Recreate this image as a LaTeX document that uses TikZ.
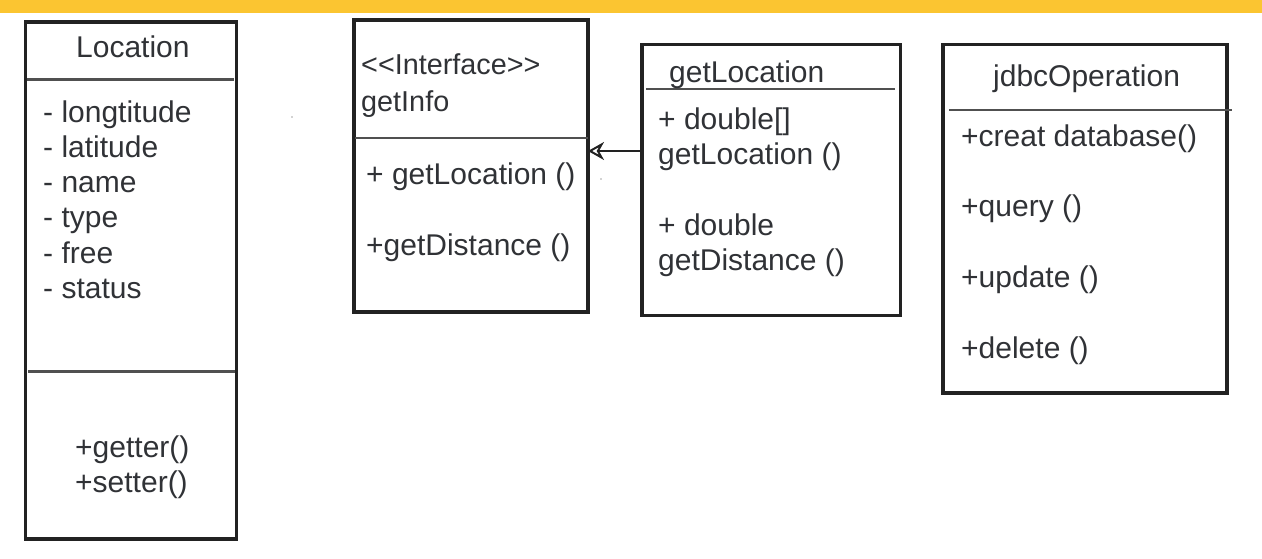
\documentclass[tikz,border=0pt]{standalone}
\usepackage{fontspec}
\setmainfont{Liberation Sans}[Ligatures=TeXOff]
\usetikzlibrary{arrows.meta}
\definecolor{barY}{RGB}{251,197,49}
\definecolor{txtC}{RGB}{48,50,54}
\definecolor{edgeC}{RGB}{34,34,34}
\definecolor{divC}{RGB}{80,80,80}
\begin{document}
\begin{tikzpicture}[x=1pt,y=-1pt,
  box/.style={draw=edgeC, line width=3.2pt, rectangle, inner sep=0pt, outer sep=0pt, anchor=north west},
  divider/.style={draw=divC, line width=2.2pt},
  txt/.style={text=txtC, inner sep=0pt, anchor=base west, font=\fontsize{30}{35}\selectfont},
  stxt/.style={txt, font=\fontsize{28.8}{35}\selectfont},
  arr/.style={draw=edgeC, line width=2pt, -{Stealth[open, length=16pt, width=18pt, inset=5pt]}}]
\useasboundingbox (0,0) rectangle (1262,559);
\fill[barY] (0,0) rectangle (1262,13);
% boxes
\node[box, minimum width=211pt, minimum height=517pt] (loc) at (25.5,22) {};
\node[box, minimum width=234pt, minimum height=292pt] (gi) at (354,20) {};
\node[box, minimum width=258.5pt, minimum height=271pt] (gl) at (642,44.5) {};
\node[box, minimum width=284pt, minimum height=348.5pt] (jd) at (943,44.5) {};
% dividers
\draw[divider] (27,79.5) -- (234,79.5);
\draw[divider] (28,371.5) -- (235,371.5);
\draw[divider] (355,138) -- (588,138);
\draw[divider] (646,89) -- (895,89);
\draw[divider] (949,110) -- (1232,110);
% Location
\node[txt] (locT) at (76,58) {Location};
\node[txt] (a1) at (43,123) {- longtitude};
\node[txt] (a2) at (43,158) {- latitude};
\node[txt] (a3) at (43,193) {- name};
\node[txt] (a4) at (43,228) {- type};
\node[txt] (a5) at (43,263) {- free};
\node[txt] (a6) at (43,298) {- status};
\node[txt] (m1) at (75,457) {+getter()};
\node[txt] (m2) at (75,492) {+setter()};
% getInfo
\node[stxt] (giT1) at (361,75) {<<Interface>>};
\node[stxt] (giT2) at (361,112) {getInfo};
\node[txt] (gi1) at (366,185) {+ getLocation ()};
\node[txt] (gi2) at (366,255) {+getDistance ()};
% getLocation
\node[txt] (glT) at (669,83) {getLocation};
\node[txt] (gl1) at (658,130) {+ double[]};
\node[txt] (gl2) at (658,165) {getLocation ()};
\node[txt] (gl3) at (658,235) {+ double};
\node[txt] (gl4) at (658,270) {getDistance ()};
% jdbcOperation
\node[txt] (jdT) at (993,87) {jdbcOperation};
\node[txt] (jd1) at (961,147) {+creat database()};
\node[txt] (jd2) at (961,217) {+query ()};
\node[txt] (jd3) at (961,287) {+update ()};
\node[txt] (jd4) at (961,358) {+delete ()};
% arrow
\coordinate (ay) at (0,151);
\draw[arr] (gl.west |- ay) -- (gi.east |- ay);
% stray dots
\fill[gray!70] (292,117) circle (0.9pt);
\fill[gray!70] (601,179) circle (0.9pt);
\end{tikzpicture}
\end{document}
